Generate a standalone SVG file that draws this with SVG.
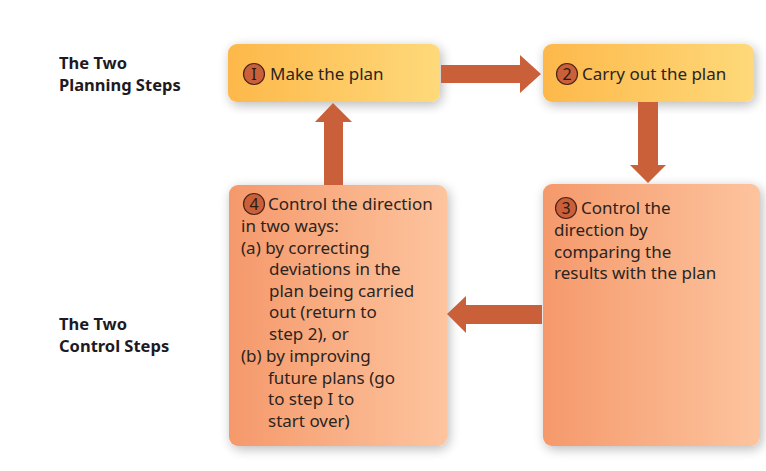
<svg xmlns="http://www.w3.org/2000/svg" width="766" height="471" viewBox="0 0 766 471">
<defs>
<linearGradient id="gY" x1="0" y1="0" x2="1" y2="0">
<stop offset="0" stop-color="#fdb84a"/>
<stop offset="1" stop-color="#fed97a"/>
</linearGradient>
<linearGradient id="gO" x1="0" y1="0" x2="1" y2="0">
<stop offset="0" stop-color="#f5996b"/>
<stop offset="1" stop-color="#fdc49e"/>
</linearGradient>
<filter id="sh" x="-20%" y="-20%" width="140%" height="140%">
<feGaussianBlur in="SourceAlpha" stdDeviation="6"/>
<feOffset dx="2" dy="3"/>
<feComponentTransfer><feFuncA type="linear" slope="0.28"/></feComponentTransfer>
<feMerge><feMergeNode/><feMergeNode in="SourceGraphic"/></feMerge>
</filter>
</defs>
<style>
.t{font-family:"Noto Sans","Open Sans","DejaVu Sans",sans-serif;font-size:17px;fill:#2b2420}
.h{font-family:"Noto Sans","Open Sans","DejaVu Sans",sans-serif;font-size:16.5px;font-weight:bold;fill:#1e1a22}
.num{fill:#c9603a;stroke:#4a2418;stroke-width:1.2}
.nt{font-family:"Noto Sans","Open Sans","DejaVu Sans",sans-serif;font-size:16px;fill:#2b1a14;text-anchor:middle}
.arr{fill:#c9603a}
</style>
<rect width="766" height="471" fill="#ffffff"/>
<g id="headings">
<text class="h" x="59" y="69">The Two</text>
<text class="h" x="59" y="91">Planning Steps</text>
<text class="h" x="59" y="330">The Two</text>
<text class="h" x="59" y="352">Control Steps</text>
</g>
<g id="step1">
<rect x="228" y="44" width="212" height="58" rx="9" fill="url(#gY)" filter="url(#sh)"/>
<circle class="num" cx="254" cy="74" r="10.5"/>
<text class="nt" x="254" y="79.5">I</text>
<text class="t" x="270" y="80">Make the plan</text>
</g>
<g id="step2">
<rect x="543" y="44" width="211" height="58" rx="9" fill="url(#gY)" filter="url(#sh)"/>
<circle class="num" cx="567" cy="74" r="10.5"/>
<text class="nt" x="567" y="79.5">2</text>
<text class="t" x="582" y="80">Carry out the plan</text>
</g>
<g id="step3">
<rect x="543" y="184" width="217" height="262" rx="9" fill="url(#gO)" filter="url(#sh)"/>
<circle class="num" cx="566" cy="208" r="10.5"/>
<text class="nt" x="566" y="213.5">3</text>
<text class="t" x="581" y="214">Control the</text>
<text class="t" x="554" y="236">direction by</text>
<text class="t" x="554" y="258">comparing the</text>
<text class="t" x="554" y="279">results with the plan</text>
</g>
<g id="step4">
<rect x="229" y="185" width="218" height="261" rx="9" fill="url(#gO)" filter="url(#sh)"/>
<circle class="num" cx="254" cy="204" r="10.5"/>
<text class="nt" x="254" y="209.5">4</text>
<text class="t" x="268" y="210">Control the direction</text>
<text class="t" x="241" y="232">in two ways:</text>
<text class="t" x="241" y="254">(a) by correcting</text>
<text class="t" x="269" y="275">deviations in the</text>
<text class="t" x="269" y="297">plan being carried</text>
<text class="t" x="269" y="318">out (return to</text>
<text class="t" x="269" y="340">step 2), or</text>
<text class="t" x="241" y="362">(b) by improving</text>
<text class="t" x="268" y="384">future plans (go</text>
<text class="t" x="268" y="405">to step I to</text>
<text class="t" x="268" y="427">start over)</text>
</g>
<g id="connectors">
<polygon class="arr" points="441,65 520,65 520,55 541,74 520,93 520,83 441,83"/>
<polygon class="arr" points="638,102 658,102 658,165 666,165 648,183 630,165 638,165"/>
<polygon class="arr" points="542,305 466,305 466,296 447,314 466,333 466,324 542,324"/>
<polygon class="arr" points="324,185 324,122 315,122 333,103 352,122 343,122 343,185"/>
</g>
</svg>
